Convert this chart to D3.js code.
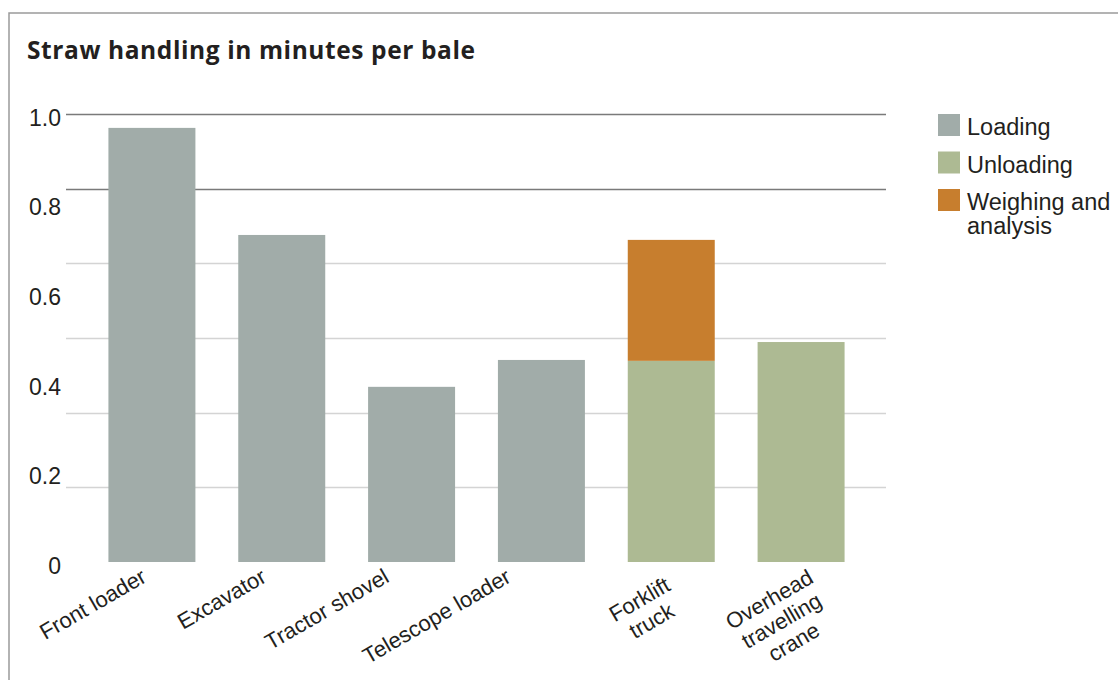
<!DOCTYPE html>
<html>
<head>
<meta charset="utf-8">
<script src="https://cdn.jsdelivr.net/npm/d3@7"></script>
<style>
	body { margin: 0; background: #fff; }
	svg { display: block; }
</style>
</head>
<body>
<svg width="1118" height="680"></svg>
<script>
// data
var categories = ['Front loader', 'Excavator', 'Tractor shovel', 'Telescope loader', 'Forklift truck', 'Overhead travelling crane'];
var loading   = [0.969, 0.730, 0.391, 0.451, 0, 0];
var unloading = [0, 0, 0, 0, 0.449, 0.491];
var weighing  = [0, 0, 0, 0, 0.270, 0];
var seriesNames = ['Loading', 'Unloading', 'Weighing and analysis'];
var yTicks = [0, 0.2, 0.4, 0.6, 0.8, 1.0];
var gridValues = [1, 5 / 6, 4 / 6, 3 / 6, 2 / 6, 1 / 6]; // grid lines in the source don't sit on the labels

var colors = ['#a1aca9', '#adba93', '#c77e2e'];
var labelLines = [['Front loader'], ['Excavator'], ['Tractor shovel'], ['Telescope loader'],
	['Forklift', 'truck'], ['Overhead', 'travelling', 'crane']];
var labelNudge = [-4, -14, -21, -29, -28, -28];

var svg = d3.select('svg');
var font = 'Liberation Sans, Arial, sans-serif';

// frame
svg.append('path')
	.attr('d', 'M1118,13H9V680')
	.attr('fill', 'none')
	.attr('stroke', '#9a9a9a')
	.attr('stroke-width', 1.5);

svg.append('text')
	.attr('x', 27)
	.attr('y', 59)
	.attr('font-family', 'Open Sans, sans-serif')
	.attr('font-weight', 700)
	.attr('font-size', 24.5)
	.attr('letter-spacing', 0.6)
	.attr('fill', '#231f20')
	.text('Straw handling in minutes per bale');

var x = d3.scaleBand()
	.domain(categories)
	.range([87, 866])
	.paddingInner(0.33)
	.paddingOuter(0.165);

var y = d3.scaleLinear()
	.domain([0, 1])
	.range([562, 114]);

// grid
svg.append('g').selectAll('line')
	.data(gridValues)
	.enter().append('line')
	.attr('x1', 66)
	.attr('x2', 886)
	.attr('y1', function(d) { return Math.round(y(d)) + 0.5; })
	.attr('y2', function(d) { return Math.round(y(d)) + 0.5; })
	.attr('stroke', function(d, i) { return i < 2 ? '#7a7a7a' : '#d4d4d4'; })
	.attr('stroke-width', function(d, i) { return i < 2 ? 1.3 : 1.5; });

// y labels
var yAxis = svg.append('g')
	.attr('transform', 'translate(61,4)')
	.call(d3.axisLeft(y).tickValues(yTicks).tickSize(0).tickPadding(0)
		.tickFormat(function(d) { return d === 0 ? '0' : d3.format('.1f')(d); }));
yAxis.select('.domain').remove();
yAxis.selectAll('text')
	.attr('font-family', font)
	.attr('font-size', 23)
	.attr('fill', '#231f20');

// stacked bars
var rows = categories.map(function(c, i) {
	return {cat: c, Loading: loading[i], Unloading: unloading[i], 'Weighing and analysis': weighing[i]};
});
var stack = d3.stack().keys(seriesNames)(rows);

svg.append('g').selectAll('g')
	.data(stack)
	.enter().append('g')
	.attr('fill', function(d, i) { return colors[i]; })
	.selectAll('rect')
	.data(function(d) { return d; })
	.enter().append('rect')
	.attr('x', function(d) { return x(d.data.cat); })
	.attr('width', x.bandwidth())
	.attr('y', function(d) { return y(d[1]); })
	.attr('height', function(d) { return y(d[0]) - y(d[1]); });

// x labels, rotated
var xl = svg.append('g').selectAll('text')
	.data(categories)
	.enter().append('text')
	.attr('font-family', font)
	.attr('font-size', 22)
	.attr('fill', '#231f20')
	.attr('transform', function(d, i) {
		var cx = x(d) + x.bandwidth() / 2 + labelNudge[i];
		var cy = labelLines[i].length > 1 ? 606 : 581;
		return 'translate(' + cx + ',' + cy + ') rotate(-30)';
	})
	.attr('text-anchor', function(d, i) { return labelLines[i].length > 1 ? 'middle' : 'end'; });
xl.each(function(d, i) {
	var t = d3.select(this);
	labelLines[i].forEach(function(s, j) {
		t.append('tspan').attr('x', 0).attr('y', j * 24.5).text(s);
	});
});

// legend
var leg = svg.append('g').attr('transform', 'translate(938,114)');
var legRows = [['Loading'], ['Unloading'], ['Weighing and', 'analysis']];
legRows.forEach(function(lines, i) {
	var g = leg.append('g').attr('transform', 'translate(0,' + (i * 37.5) + ')');
	g.append('rect')
		.attr('width', 22)
		.attr('height', 22)
		.attr('fill', colors[i]);
	var t = g.append('text')
		.attr('font-family', font)
		.attr('font-size', 23.5)
		.attr('fill', '#231f20');
	lines.forEach(function(s, j) {
		t.append('tspan').attr('x', 29).attr('y', 21 + j * 24).text(s);
	});
});
</script>
</body>
</html>
